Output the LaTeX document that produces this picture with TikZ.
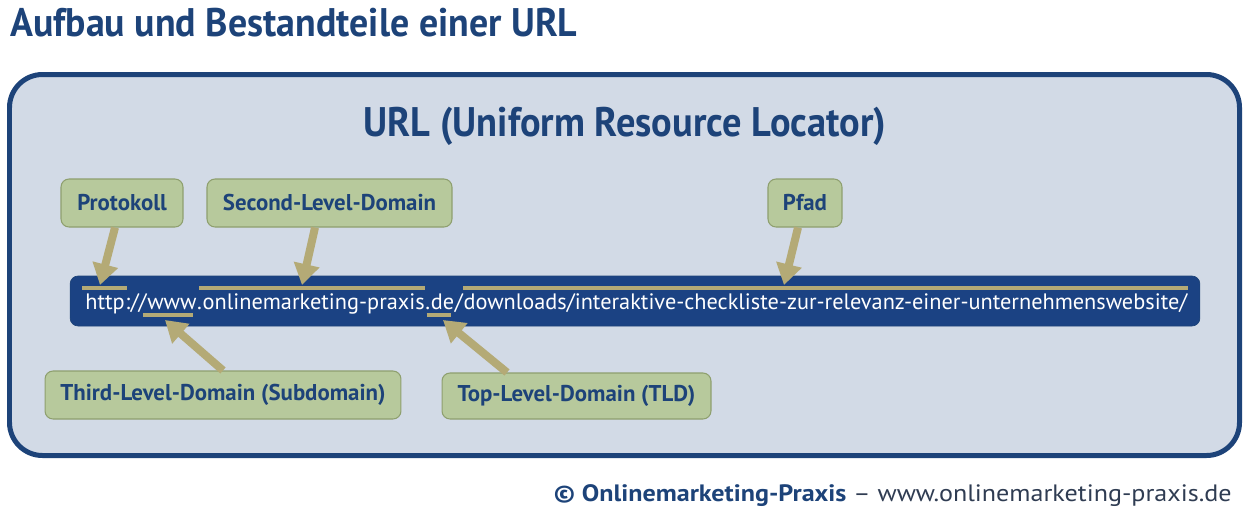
\documentclass[tikz,border=0pt]{standalone}
\usepackage{fontspec}
\setmainfont{PT Sans}
\newfontfamily\headfont[FakeStretch=0.95]{PT Sans}
\newfontfamily\subfont[FakeStretch=0.93]{PT Sans}
\newfontfamily\creditfont[FakeStretch=1.10]{PT Sans}
\usepackage{xcolor}
\usepackage{tikz}
\usetikzlibrary{arrows.meta}
\definecolor{navy}{HTML}{1D4379}
\definecolor{barblue}{HTML}{1B4283}
\definecolor{paleblue}{HTML}{D2DAE6}
\definecolor{partgreen}{HTML}{B7C99C}
\definecolor{partedge}{HTML}{8E9F6E}
\definecolor{khaki}{HTML}{B4AA76}
\definecolor{footgray}{HTML}{2F3C52}
\tikzstyle{frame}=[draw=navy, fill=paleblue, line width=0.1cm, rounded corners=0.66cm]
\tikzstyle{part}=[fill=partgreen, draw=partedge, line width=0.6pt, rounded corners=0.16cm, text=navy, inner sep=0pt, minimum height=0.96cm, font=\fontsize{13}{15}\selectfont\bfseries]
\tikzstyle{bar}=[fill=barblue, draw=navy, rounded corners=0.16cm, minimum width=22.6cm, minimum height=1cm]
\tikzstyle{piece}=[anchor=base west, inner sep=0pt, text=white, font=\fontsize{12.7}{15}\selectfont]
\tikzstyle{mark line}=[-, draw=khaki, line width=0.08cm]
\tikzstyle{pointer}=[-{Triangle[length=0.42cm, width=0.5cm]}, draw=khaki, line width=0.16cm]
\pgfdeclarelayer{nodelayer}
\pgfdeclarelayer{edgelayer}
\pgfsetlayers{nodelayer,main,edgelayer}

\begin{document}
\begin{tikzpicture}[x=0.02cm, y=-0.02cm]
	\useasboundingbox (0,0) rectangle (1252,511);
	\begin{pgfonlayer}{nodelayer}
		\node [anchor=base west, inner sep=0pt, text=navy, font=\headfont\fontsize{22.7}{27}\selectfont\bfseries] (head) at (10,36) {Aufbau und Bestandteile einer URL};
		\draw [style=frame] (9.5,74.5) rectangle (1239.5,455.5);
		\node [anchor=base, inner sep=0pt, text=navy, font=\subfont\fontsize{23.5}{28}\selectfont\bfseries] (sub) at (625,136) {URL (Uniform Resource Locator)};
		\node [style=part, minimum width=2.44cm] (prot) at (122,203) {Protokoll};
		\node [style=part, minimum width=4.9cm] (sld) at (329.5,203) {Second-Level-Domain};
		\node [style=part, minimum width=1.48cm] (path) at (805,203) {Pfad};
		\node [style=part, minimum width=7.12cm] (sub3) at (223,395) {Third-Level-Domain (Subdomain)};
		\node [style=part, minimum width=5.38cm, minimum height=0.92cm] (tld) at (576.5,396) {Top-Level-Domain (TLD)};
		\node [style=bar] (bar) at (635,301) {};
		% die URL in Stuecken
		\node [style=piece] (u1) at (85,309) {http};
		\node [style=piece] (u2) at (u1.base east) {://};
		\node [style=piece] (u3) at (u2.base east) {www};
		\node [style=piece] (u4) at (u3.base east) {.};
		\node [style=piece] (u5) at (u4.base east) {onlinemarketing-praxis};
		\node [style=piece] (u6) at (u5.base east) {.};
		\node [style=piece] (u7) at (u6.base east) {de};
		\node [style=piece] (u8) at (u7.base east) {/};
		\node [style=piece] (u9) at (u8.base east) {downloads/interaktive-checkliste-zur-relevanz-einer-unternehmenswebsite/};
		\node [anchor=base east, inner sep=0pt, text=navy, font=\creditfont\fontsize{13.5}{16}\selectfont] (credit) at (1232,501) {\textbf{© Onlinemarketing-Praxis} \textcolor{footgray}{– www.onlinemarketing-praxis.de}};
	\end{pgfonlayer}
	\begin{pgfonlayer}{edgelayer}
		\draw [style=mark line] ([xshift=-0.06cm]u1.west |- 0,288) -- ([xshift=0.04cm]u1.east |- 0,288);
		\draw [style=mark line] ([xshift=-0.06cm]u5.west |- 0,288) -- (u5.east |- 0,288);
		\draw [style=mark line] (u9.west |- 0,288) -- (u9.east |- 0,288);
		\draw [style=mark line] ([xshift=-0.08cm]u3.west |- 0,315) -- ([xshift=-0.08cm]u3.east |- 0,315);
		\draw [style=mark line] ([xshift=-0.08cm]u7.west |- 0,315) -- ([xshift=-0.08cm]u7.east |- 0,315);
		\coordinate (tprot) at (100,285);
		\coordinate (tsld) at (302,285);
		\coordinate (tpath) at (784,285);
		\coordinate (tsub3) at (165,320);
		\coordinate (ttld) at (443,320);
		\draw [style=pointer] ([xshift=-0.14cm]prot.south) -- (tprot);
		\draw [style=pointer] ([xshift=-0.29cm]sld.south) -- (tsld);
		\draw [style=pointer] ([xshift=-0.14cm]path.south) -- (tpath);
		\draw [style=pointer] (sub3.north) -- (tsub3);
		\draw [style=pointer] ([xshift=-1.39cm]tld.north) -- (ttld);
	\end{pgfonlayer}
\end{tikzpicture}
\end{document}
